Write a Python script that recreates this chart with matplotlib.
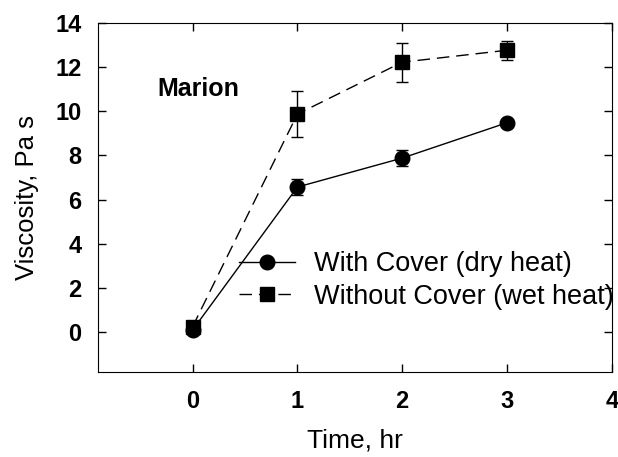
import matplotlib
matplotlib.use("Agg")
import matplotlib.pyplot as plt

plt.rcParams["font.family"] = ["Liberation Sans", "DejaVu Sans"]

time_hr = [0, 1, 2, 3]
with_cover = [0.1, 6.57, 7.88, 9.48]
with_cover_err = [0.0, 0.37, 0.37, 0.0]
without_cover = [0.25, 9.87, 12.22, 12.76]
without_cover_err = [0.0, 1.05, 0.88, 0.42]

fig = plt.figure(figsize=(6.18, 4.57), dpi=100)
ax = fig.add_axes([0.159, 0.186, 0.831, 0.764])

# error bars first, lines + markers on top (legend without bars)
ax.errorbar(time_hr, with_cover, yerr=with_cover_err, fmt="none", ecolor="black",
            capsize=4.5, elinewidth=1.0)
ax.errorbar(time_hr, without_cover, yerr=without_cover_err, fmt="none", ecolor="black",
            capsize=4.5, elinewidth=1.0)
ax.plot(time_hr, with_cover, "-o", color="black", markersize=10.5, linewidth=1.0,
        label="With Cover (dry heat)")
ax.plot(time_hr, without_cover, marker="s", linestyle=(0, (9, 5)), color="black",
        markersize=9.5, linewidth=1.0, label="Without Cover (wet heat)")

ax.set_xlim(-0.9, 4)
ax.set_ylim(-1.8, 14)
ax.set_xticks([0, 1, 2, 3, 4])
ax.set_yticks([0, 2, 4, 6, 8, 10, 12, 14])
ax.tick_params(direction="in", top=True, right=True, length=6, width=1,
               labelsize=17)
ax.tick_params(axis="y", pad=12)
ax.tick_params(axis="x", pad=13)
for lab in ax.get_xticklabels() + ax.get_yticklabels():
    lab.set_fontweight("bold")

ax.set_xlabel("Time, hr", fontsize=19, labelpad=11)
ax.set_ylabel("Viscosity, Pa s", fontsize=18.5, labelpad=12)

ax.text(-0.34, 11.0, "Marion", fontsize=18, fontweight="bold", va="center")

leg = ax.legend(loc="center left", bbox_to_anchor=(0.275, 0.262), frameon=False,
                fontsize=19.5, handlelength=2.05, handletextpad=0.7, labelspacing=0.25,
                borderpad=0, borderaxespad=0)

fig.savefig("out.png", dpi=100)
